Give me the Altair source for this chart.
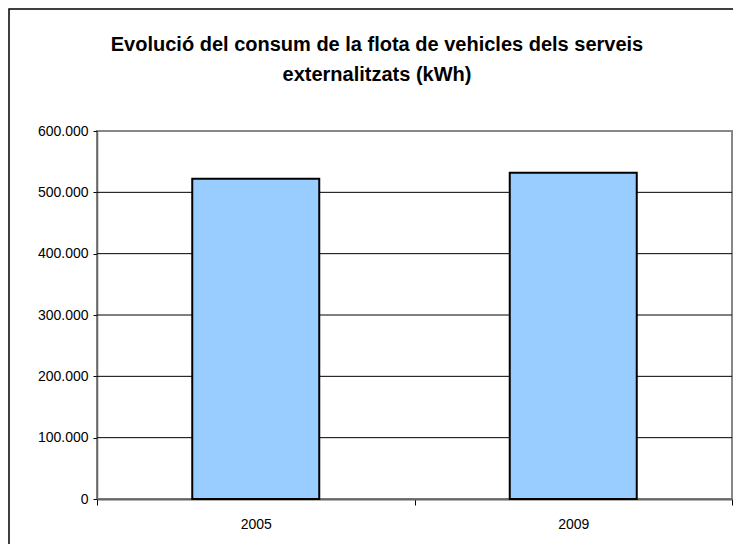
import altair as alt
import pandas as pd

years = ["2005", "2009"]
consum = [522000, 532000]
grid_values = [100000, 200000, 300000, 400000, 500000]
title_lines = ["Evolució del consum de la flota de vehicles dels serveis", "externalitzats (kWh)"]

W, H = 635, 368
PAD = {"left": 89, "top": 123, "right": 1, "bottom": 45}

df = pd.DataFrame({"any": years, "consum": consum})
grid_df = pd.DataFrame({"v": grid_values})
title_df = pd.DataFrame({"line": title_lines, "row": [0, 1]})

yscale = alt.Scale(domain=[0, 600000])

frame = alt.Chart(alt.Data(values=[{"a": 1}])).mark_rect(
    fillOpacity=0, stroke="black", strokeWidth=1.5
).encode(
    x=alt.value(-88), x2=alt.value(W + 20),
    y=alt.value(-122), y2=alt.value(H + 60),
)

title = alt.Chart(title_df).mark_text(
    font="Liberation Sans", fontSize=20, fontWeight="bold", color="black",
    align="center", baseline="middle"
).encode(
    text="line:N",
    x=alt.value(280),
    y=alt.Y("row:Q", axis=None, scale=alt.Scale(domain=[0, 1], range=[-86, -56])),
)

grid = alt.Chart(grid_df).mark_rule(color="black", strokeWidth=1).encode(
    y=alt.Y("v:Q", scale=yscale, axis=None),
)

bars = alt.Chart(df).mark_bar(
    fill="#99CCFF", stroke="black", strokeWidth=2,
    width=alt.RelativeBandSize(0.4)
).encode(
    x=alt.X("any:N", title=None,
            scale=alt.Scale(paddingInner=0, paddingOuter=0),
            axis=alt.Axis(labelAngle=0, tickBand="extent", tickSize=6,
                          tickColor="black", domainColor="#666666", domainWidth=2,
                          labelPadding=12, labelFontSize=14, labelColor="black",
                          labelFont="Liberation Sans", grid=False)),
    y=alt.Y("consum:Q", title=None, scale=yscale,
            axis=alt.Axis(values=[0, 100000, 200000, 300000, 400000, 500000, 600000],
                          labelExpr="replace(format(datum.value, ','), ',', '.')",
                          tickSize=4, tickColor="black", domainColor="#666666", domainWidth=1.5,
                          labelPadding=5, labelFontSize=14, labelColor="black",
                          labelFont="Liberation Sans", grid=False)),
)

chart = alt.layer(grid, bars, title, frame).resolve_scale(y="independent").properties(
    width=W, height=H,
    autosize=alt.AutoSizeParams(type="none"),
    padding=PAD,
).configure_view(
    stroke="#888888", strokeWidth=2
)

chart.save("out.html", embed_options={"renderer": "svg", "actions": False})
